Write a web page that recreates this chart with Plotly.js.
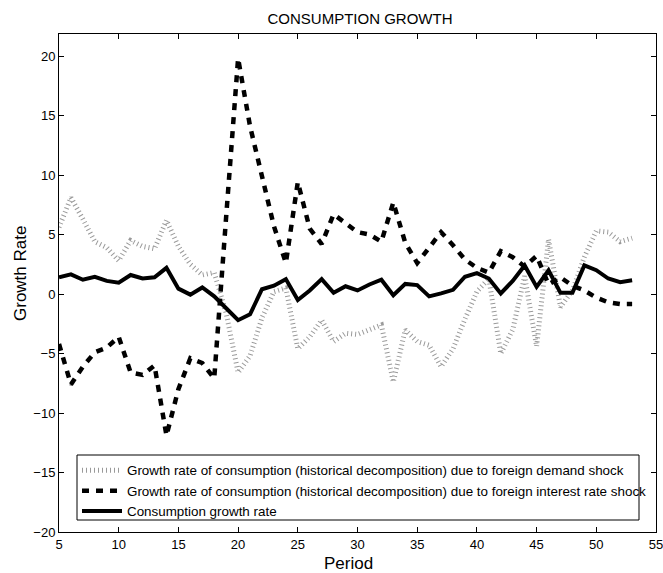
<!DOCTYPE html>
<html>
<head>
<meta charset="utf-8">
<script src="https://cdn.plot.ly/plotly-3.0.1.min.js"></script>
<style>
  html, body { margin: 0; padding: 0; background: #fff; }
  #chart { width: 663px; height: 573px; }
</style>
</head>
<body>
<div id="chart"></div>
<script>
// Periods covered by the decomposition
const periods = [5, 6, 7, 8, 9, 10, 11, 12, 13, 14, 15, 16, 17, 18, 19, 20, 21, 22, 23, 24,
  25, 26, 27, 28, 29, 30, 31, 32, 33, 34, 35, 36, 37, 38, 39, 40, 41, 42, 43, 44,
  45, 46, 47, 48, 49, 50, 51, 52, 53];

// Contribution of the foreign demand shock
const demandShock = [5.6, 8.1, 6.3, 4.4, 3.9, 2.8, 4.5, 4.0, 3.8, 6.2, 4.0, 2.5, 1.6, 1.8, -1.6, -6.6, -5.2, -2.0, 0.2, 0.5,
  -4.6, -3.6, -2.2, -4.0, -3.3, -3.4, -3.0, -2.6, -7.4, -3.0, -4.0, -4.3, -6.1, -4.6, -2.1, 0.2, 1.3, -5.0, -3.0, 1.5,
  -4.4, 4.6, -1.1, 0.3, 3.1, 5.3, 5.2, 4.4, 4.7];

// Contribution of the foreign interest rate shock
const rateShock = [-4.2, -7.6, -6.1, -4.9, -4.5, -3.6, -6.6, -6.8, -6.0, -11.9, -8.0, -5.4, -5.8, -7.1, 6.5, 19.8, 14.1, 9.7, 5.7, 2.6,
  9.4, 5.5, 4.2, 6.7, 6.0, 5.2, 5.0, 4.4, 7.7, 4.3, 2.6, 3.9, 5.2, 4.1, 2.9, 2.2, 1.8, 3.6, 3.1, 2.3,
  3.2, 0.8, 1.4, 0.7, 0.3, -0.3, -0.7, -0.85, -0.85];

// Observed consumption growth
const consumption = [1.4, 1.65, 1.2, 1.45, 1.1, 0.95, 1.6, 1.3, 1.4, 2.2, 0.45, -0.05, 0.55, -0.2, -1.2, -2.2, -1.7, 0.4, 0.7, 1.25,
  -0.5, 0.3, 1.25, 0.1, 0.65, 0.3, 0.8, 1.2, -0.1, 0.85, 0.75, -0.2, 0.05, 0.35, 1.45, 1.75, 1.3, 0.05, 1.1, 2.4,
  0.6, 2.0, 0.1, 0.1, 2.4, 2.0, 1.3, 1.0, 1.15];

const seriesNames = [
  'Growth rate of consumption (historical decomposition) due to foreign demand shock',
  'Growth rate of consumption (historical decomposition) due to foreign interest rate shock',
  'Consumption growth rate'
];

const xTicks = [5, 10, 15, 20, 25, 30, 35, 40, 45, 50, 55];
const yTicks = [-20, -15, -10, -5, 0, 5, 10, 15, 20];

const FONT = '"Liberation Sans", Arial, Helvetica, sans-serif';

const traces = [
  {
    x: periods, y: demandShock, name: seriesNames[0], type: 'scatter', mode: 'lines',
    line: { color: '#9a9a9a', width: 5, dash: '1px,3px' }
  },
  {
    x: periods, y: rateShock, name: seriesNames[1], type: 'scatter', mode: 'lines',
    line: { color: '#000000', width: 4.5, dash: '7px,7px' }
  },
  {
    x: periods, y: consumption, name: seriesNames[2], type: 'scatter', mode: 'lines',
    line: { color: '#000000', width: 4 }
  }
];

const axisCommon = {
  showgrid: false, zeroline: false, showline: true, linecolor: '#000', linewidth: 1,
  mirror: 'ticks', ticks: 'inside', ticklen: 5, tickwidth: 1, tickcolor: '#000',
  tickfont: { family: FONT, size: 13, color: '#000' }, ticklabeloverflow: 'allow'
};

// plot area in pixels: left 59, right 656, top 34, bottom 532
const px = v => (v - 59) / 597;
const py = v => (532 - v) / 498;

const layout = {
  width: 663, height: 573,
  paper_bgcolor: '#fff', plot_bgcolor: '#fff',
  margin: { l: 59, r: 7, t: 34, b: 41 },
  font: { family: FONT, color: '#000' },
  title: {
    text: 'CONSUMPTION GROWTH', font: { family: FONT, size: 15, color: '#000' },
    x: 360 / 663, xanchor: 'center', xref: 'container',
    y: 1 - 19 / 573, yanchor: 'middle', yref: 'container'
  },
  xaxis: Object.assign({}, axisCommon, {
    range: [5, 55], tickvals: xTicks, ticktext: xTicks.map(String)
  }),
  yaxis: Object.assign({}, axisCommon, {
    range: [-20, 21.85], tickvals: yTicks, ticktext: yTicks.map(v => v < 0 ? '\u2212' + Math.abs(v) : String(v))
  }),
  // axis labels, placed as free text
  annotations: [
    {
      text: 'Period', xref: 'paper', yref: 'paper', x: px(348), y: py(563),
      xanchor: 'center', yanchor: 'middle', showarrow: false,
      font: { family: FONT, size: 17, color: '#000' }
    },
    {
      text: 'Growth Rate', xref: 'paper', yref: 'paper', x: px(20), y: py(274),
      xanchor: 'center', yanchor: 'middle', showarrow: false, textangle: -90,
      font: { family: FONT, size: 17, color: '#000' }
    }
  ],
  // legend frame: fixed box, the longest entry runs slightly past its right edge
  shapes: [{
    type: 'rect', xref: 'paper', yref: 'paper', layer: 'above',
    x0: px(77), x1: px(639), y0: py(520), y1: py(455),
    line: { color: '#000', width: 1 }, fillcolor: '#fff'
  }],
  showlegend: true,
  legend: {
    x: px(77), y: py(455), xanchor: 'left', yanchor: 'top',
    bgcolor: 'rgba(0,0,0,0)', borderwidth: 0,
    font: { family: FONT, size: 13.4, color: '#000' },
    itemwidth: 40, tracegroupgap: 0
  }
};

Plotly.newPlot('chart', traces, layout, { staticPlot: true, displayModeBar: false });
</script>
</body>
</html>
